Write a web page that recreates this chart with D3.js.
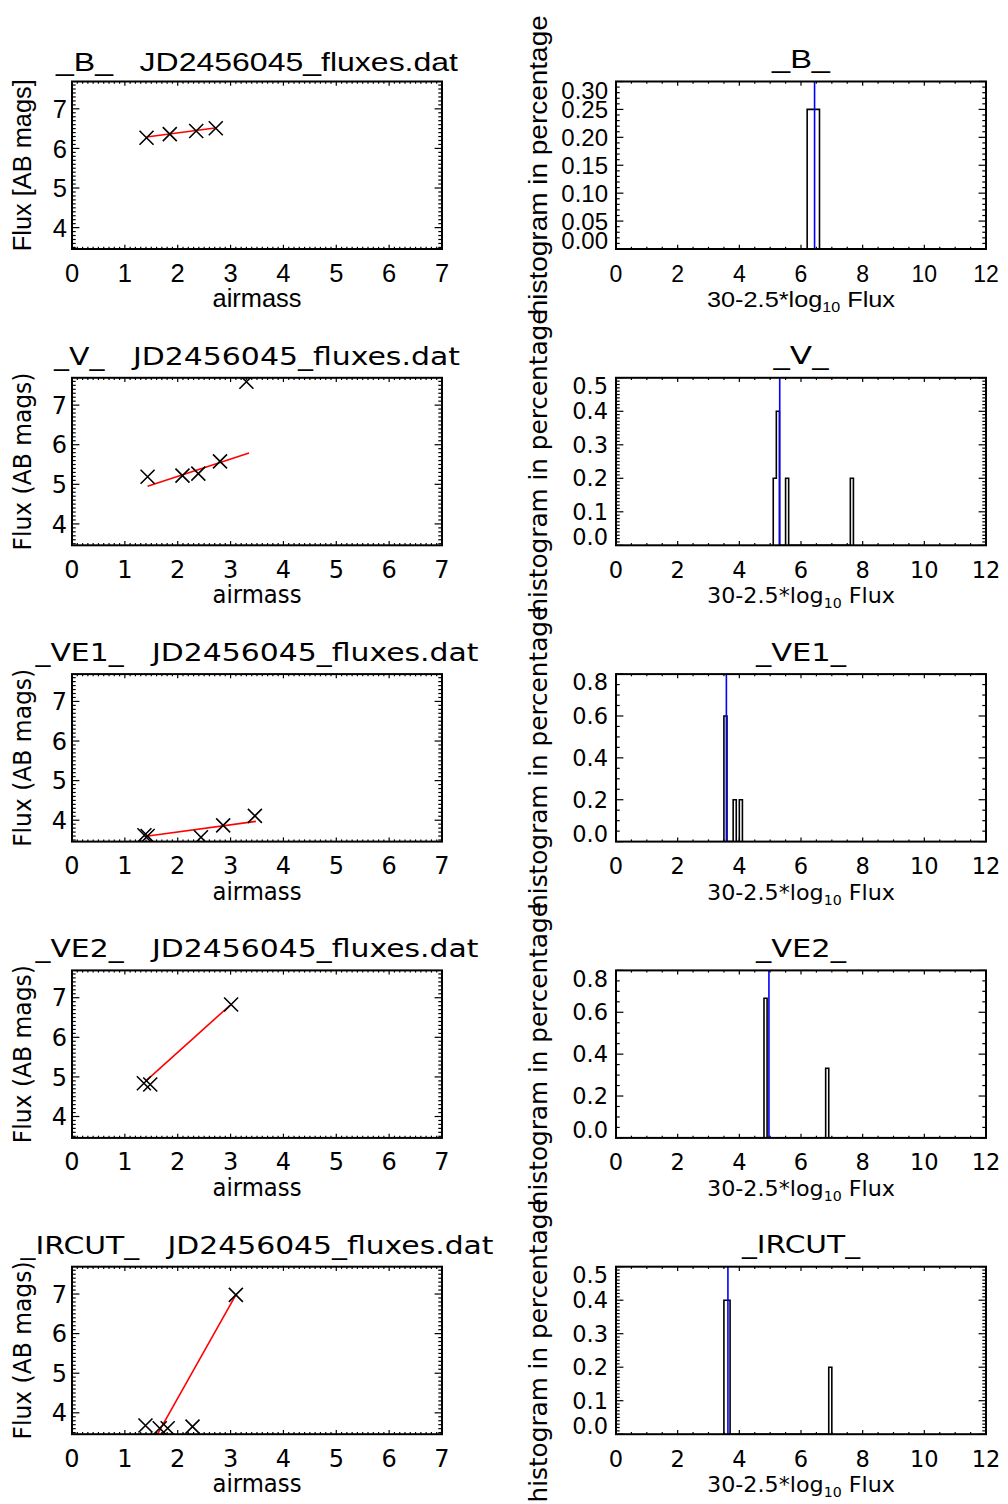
<!DOCTYPE html>
<html><head><meta charset="utf-8">
<script src="https://cdn.jsdelivr.net/npm/d3@7"></script>
<style>body{margin:0;background:#fff}svg{display:block}</style>
</head><body>
<svg id="chart" width="1008" height="1504"></svg>
<script>
// ---------------- data ----------------
const bands = ["_B_", "_V_", "_VE1_", "_VE2_", "_IRCUT_"];
const fileName = "JD2456045_fluxes.dat";
const yLabelLeft = ["Flux [AB mags]", "Flux (AB mags)", "Flux (AB mags)", "Flux (AB mags)", "Flux (AB mags)"];
const yLabelRight = "histogram in percentage";
const xLabelLeft = "airmass";

const airmass = [
  [1.41, 1.85, 2.35, 2.72],
  [1.43, 2.09, 2.39, 2.80, 3.30],
  [1.37, 1.43, 2.44, 2.86, 3.46],
  [1.36, 1.48, 3.01],
  [1.39, 1.66, 1.81, 2.28, 3.10]
];
const mags = [
  [6.27, 6.36, 6.44, 6.51],
  [5.19, 5.22, 5.27, 5.58, 7.59],
  [3.62, 3.60, 3.57, 3.87, 4.11],
  [4.84, 4.81, 6.83],
  [3.68, 3.61, 3.61, 3.65, 6.98]
];
// red linear-fit segments: airmass endpoints and magnitude endpoints
const fitAirmass = [[1.41, 2.74], [1.43, 3.35], [1.37, 3.48], [1.40, 2.99], [1.39, 3.10]];
const fitMag     = [[6.29, 6.52], [4.95, 5.79], [3.59, 3.97], [4.90, 6.81], [2.92, 6.98]];

// histograms (bin left edges, fraction per bin)
const binWidth = 0.1;
const binLeft = [[6.2, 6.3, 6.4, 6.5], [5.1, 5.2, 5.5, 7.6], [3.5, 3.8, 4.0], [4.8, 6.8], [3.5, 3.6, 6.9]];
const binFrac = [[0.25, 0.25, 0.25, 0.25], [0.2, 0.4, 0.2, 0.2], [0.6, 0.2, 0.2], [0.667, 0.333], [0.4, 0.4, 0.2]];
const medianMag = [6.44, 5.31, 3.58, 4.96, 3.63];

// axis settings
const leftXDomain = [0, 7], leftYDomain = [3.46, 7.69];
const leftXTicks = [0, 1, 2, 3, 4, 5, 6, 7];
const leftYTicks = [4, 5, 6, 7];
const rightXDomain = [0, 12];
const rightXTicks = [0, 2, 4, 6, 8, 10, 12];
const histMax = [0.30, 0.5, 0.8, 0.8, 0.5];
const histTicks = [
  [0.00, 0.05, 0.10, 0.15, 0.20, 0.25, 0.30],
  [0.0, 0.1, 0.2, 0.3, 0.4, 0.5],
  [0.0, 0.2, 0.4, 0.6, 0.8],
  [0.0, 0.2, 0.4, 0.6, 0.8],
  [0.0, 0.1, 0.2, 0.3, 0.4, 0.5]
];
const histTickFmt = [".2f", ".1f", ".1f", ".1f", ".1f"];
const histMinorN = [5, 10, 4, 4, 10];

// titles widths
const leftTitleLen = [402, 406, 443, 443, 473];
const rightTitleLen = [58, 55, 90, 90, 118];

// ---------------- layout ----------------
const svg = d3.select("#chart");
svg.append("rect").attr("width", 1008).attr("height", 1504).attr("fill", "#fff");

const PH = 167.5;
const LX = [72, 442], RX = [616, 986];

function drawFrame(g, x, y, o) {
  const [x0, x1] = x.range();
  const [yb, yt] = y.range();
  const tk = g.append("g").attr("stroke", "#000").attr("stroke-width", 1.2);
  const xMaj = o.xTicks;
  const xs = xMaj[1] - xMaj[0];
  const xMin = [];
  for (let i = 0; i < xMaj.length - 1; i++)
    for (let j = 1; j < o.xMinorN; j++) xMin.push(xMaj[i] + xs * j / o.xMinorN);
  const xl = 4.2, xm = 2.2;
  xMaj.forEach(v => {
    tk.append("line").attr("x1", x(v)).attr("x2", x(v)).attr("y1", yb).attr("y2", yb - xl);
    tk.append("line").attr("x1", x(v)).attr("x2", x(v)).attr("y1", yt).attr("y2", yt + xl);
  });
  xMin.forEach(v => {
    tk.append("line").attr("x1", x(v)).attr("x2", x(v)).attr("y1", yb).attr("y2", yb - xm);
    tk.append("line").attr("x1", x(v)).attr("x2", x(v)).attr("y1", yt).attr("y2", yt + xm);
  });
  const yMaj = o.yTicks;
  const ys = yMaj[1] - yMaj[0];
  const yd = y.domain();
  const yMin = [];
  const lo = yMaj[0] - ys, hi = yMaj[yMaj.length - 1] + ys;
  for (let v = lo; v < hi - 1e-9; v += ys)
    for (let j = 1; j < o.yMinorN; j++) {
      const w = v + ys * j / o.yMinorN;
      if (w > yd[0] + 1e-9 && w < yd[1] - 1e-9) yMin.push(w);
    }
  const yl = 7.4, ym = 3.7;
  yMaj.forEach(v => {
    tk.append("line").attr("x1", x0).attr("x2", x0 + yl).attr("y1", y(v)).attr("y2", y(v));
    tk.append("line").attr("x1", x1).attr("x2", x1 - yl).attr("y1", y(v)).attr("y2", y(v));
  });
  yMin.forEach(v => {
    tk.append("line").attr("x1", x0).attr("x2", x0 + ym).attr("y1", y(v)).attr("y2", y(v));
    tk.append("line").attr("x1", x1).attr("x2", x1 - ym).attr("y1", y(v)).attr("y2", y(v));
  });
  g.append("rect").attr("x", x0).attr("y", yt).attr("width", x1 - x0).attr("height", yb - yt)
    .attr("fill", "none").attr("stroke", "#000").attr("stroke-width", 2);
  xMaj.forEach(v => {
    g.append("text").attr("x", x(v)).attr("y", yb + 32.5).attr("text-anchor", "middle")
      .attr("font-family", o.font).attr("font-size", o.xfs).text(d3.format("d")(v));
  });
  const cap = 0.72 * o.yfs;
  yMaj.forEach(v => {
    let base = y(v) + cap / 2;
    base = Math.max(base, yt + cap);
    base = Math.min(base, yb);
    g.append("text").attr("x", x0 - o.yLabGap).attr("y", base).attr("text-anchor", "end")
      .attr("font-family", o.font).attr("font-size", o.yfs).text(d3.format(o.yFmt)(v));
  });
}

bands.forEach((band, k) => {
  const T = 81.5 + k * 296.3, B = T + PH;
  const font = k === 0 ? "'Liberation Sans', Arial, sans-serif" : "'DejaVu Sans', sans-serif";

  // ---------- left panel ----------
  const gl = svg.append("g");
  const x = d3.scaleLinear().domain(leftXDomain).range(LX);
  const y = d3.scaleLinear().domain(leftYDomain).range([B, T]);
  const clipL = "clipL" + k;
  svg.append("clipPath").attr("id", clipL).append("rect")
    .attr("x", LX[0]).attr("y", T).attr("width", LX[1] - LX[0]).attr("height", PH);

  const dl = gl.append("g").attr("clip-path", `url(#${clipL})`);
  dl.append("path")
    .datum(fitAirmass[k].map((a, i) => [a, fitMag[k][i]]))
    .attr("d", d3.line().x(d => x(d[0])).y(d => y(d[1])))
    .attr("stroke", "#ff0000").attr("stroke-width", 1.6).attr("fill", "none");
  dl.selectAll("path.pt").data(airmass[k].map((a, i) => [a, mags[k][i]])).join("path")
    .attr("class", "pt")
    .attr("transform", d => `translate(${x(d[0])},${y(d[1])})`)
    .attr("d", "M-7,-7L7,7M-7,7L7,-7")
    .attr("stroke", "#000").attr("stroke-width", 1.6).attr("fill", "none");

  drawFrame(gl, x, y, {
    xTicks: leftXTicks, xMinorN: 10, yTicks: leftYTicks, yMinorN: 10, yFmt: "d",
    font, xfs: k === 0 ? 25.5 : 24, yfs: k === 0 ? 25.5 : 24, yLabGap: 5
  });

  gl.append("text").attr("x", 257).attr("y", T - (k === 0 ? 11 : 13)).attr("text-anchor", "middle")
    .attr("font-family", font).attr("font-size", k === 0 ? 26.5 : 24.5)
    .attr("textLength", leftTitleLen[k]).attr("lengthAdjust", "spacingAndGlyphs")
    .attr("xml:space", "preserve")
    .text(band + "   " + fileName);
  gl.append("text").attr("x", 257).attr("y", B + 58).attr("text-anchor", "middle")
    .attr("font-family", font).attr("font-size", k === 0 ? 25.5 : 24)
    .attr("textLength", 89).attr("lengthAdjust", "spacingAndGlyphs")
    .text(xLabelLeft);
  gl.append("text").attr("transform", `translate(31,${T + PH / 2}) rotate(-90)`)
    .attr("text-anchor", "middle")
    .attr("font-family", font).attr("font-size", k === 0 ? 26 : 24.5)
    .attr("textLength", k === 0 ? 172 : 178).attr("lengthAdjust", "spacingAndGlyphs")
    .text(yLabelLeft[k]);

  // ---------- right panel ----------
  const gr = svg.append("g");
  const xr = d3.scaleLinear().domain(rightXDomain).range(RX);
  const yr = d3.scaleLinear().domain([0, histMax[k]]).range([B, T]);
  const clipR = "clipR" + k;
  svg.append("clipPath").attr("id", clipR).append("rect")
    .attr("x", RX[0]).attr("y", T).attr("width", RX[1] - RX[0]).attr("height", PH);
  const dr = gr.append("g").attr("clip-path", `url(#${clipR})`);

  const pts = [];
  binLeft[k].forEach((l, i) => {
    const r = l + binWidth, h = binFrac[k][i];
    const prevR = i > 0 ? binLeft[k][i - 1] + binWidth : null;
    if (prevR === null || Math.abs(prevR - l) > 1e-6) pts.push([l, 0]);
    pts.push([l, h]); pts.push([r, h]);
    const nextL = i < binLeft[k].length - 1 ? binLeft[k][i + 1] : null;
    if (nextL === null || Math.abs(nextL - r) > 1e-6) pts.push([r, 0]);
  });
  dr.append("path").datum(pts)
    .attr("d", d3.line().x(d => xr(d[0])).y(d => yr(d[1])))
    .attr("stroke", "#000").attr("stroke-width", 1.6).attr("fill", "none");
  dr.append("line").attr("x1", xr(medianMag[k])).attr("x2", xr(medianMag[k]))
    .attr("y1", B).attr("y2", T).attr("stroke", "#0000ff").attr("stroke-width", 1.6);

  drawFrame(gr, xr, yr, {
    xTicks: rightXTicks, xMinorN: 4, yTicks: histTicks[k], yMinorN: histMinorN[k], yFmt: histTickFmt[k],
    font, xfs: k === 0 ? 23 : 22.5, yfs: k === 0 ? 24 : 22.5, yLabGap: 8
  });

  gr.append("text").attr("x", 801).attr("y", T - 13.5).attr("text-anchor", "middle")
    .attr("font-family", font).attr("font-size", k === 0 ? 25.5 : 25)
    .attr("textLength", rightTitleLen[k]).attr("lengthAdjust", "spacingAndGlyphs")
    .text(band);
  const xt = gr.append("text").attr("x", 801).attr("y", B + 58).attr("text-anchor", "middle")
    .attr("font-family", font).attr("font-size", 22)
    .attr("textLength", 188).attr("lengthAdjust", "spacingAndGlyphs");
  xt.append("tspan").text("30-2.5*log");
  xt.append("tspan").attr("font-size", 14).attr("dy", 5).text("10");
  xt.append("tspan").attr("dy", -5).text(" Flux");
  gr.append("text").attr("transform", `translate(547,${T + PH / 2}) rotate(-90)`)
    .attr("text-anchor", "middle")
    .attr("font-family", font).attr("font-size", k === 0 ? 26 : 25)
    .attr("textLength", k === 0 ? 300 : 304).attr("lengthAdjust", "spacingAndGlyphs")
    .text(yLabelRight);
});
</script>
</body></html>
